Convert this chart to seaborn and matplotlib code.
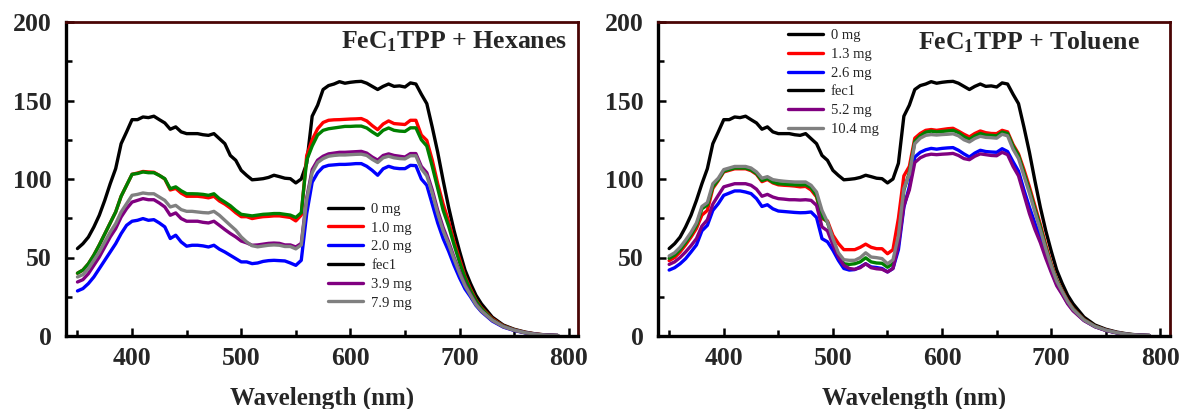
import matplotlib
matplotlib.use("Agg")
import matplotlib.pyplot as plt
from matplotlib.lines import Line2D
from matplotlib.ticker import MultipleLocator
import pandas as pd
import seaborn as sns

# ---------------- data ----------------
wavelength = list(range(350, 721, 5)) + list(range(730, 791, 10))

zero_mg = [55.7, 58.8, 63, 69.4, 76.9, 86.4, 97, 106.6, 122.5, 130,
           137.8, 137.8, 139.5, 139.1, 140, 137.8, 135.7, 131.7, 133.2, 130,
           128.9, 128.9, 128.9, 128.2, 127.8, 128.9, 125.7, 122.5, 115, 111.9,
           105.5, 102.3, 99.5, 99.8, 100.2, 101, 102.4, 101.5, 100.5, 100.2,
           97.5, 100, 110, 140, 147, 157, 159.5, 160.5, 162, 161,
           161.6, 162, 162.2, 161, 159, 157, 159, 160.5, 159, 159.3,
           158.6, 161.2, 160.5, 154, 148, 133, 117, 99, 82, 67,
           54, 42, 33.5, 26, 20.5,
           12, 7, 4.3, 2.5, 1.3, 0.6, 0.3]

# Hexanes panel
hex_1_0 = [40, 42, 46, 51.5, 58, 65, 72, 79, 89, 96,
           103, 103.8, 104.8, 104.5, 104.3, 102.3, 100, 93, 94, 91,
           89, 89, 89, 88.6, 88, 89, 86, 84, 81.5, 78.5,
           76, 76, 74.8, 75.5, 76, 76.2, 76.5, 76.5, 76, 75.5,
           73.3, 77, 115, 125, 132, 136, 137.4, 137.7, 137.8, 138,
           138.2, 138.3, 138.5, 137, 134, 131.4, 135, 137, 135.3, 135,
           134.7, 137.4, 137.4, 128, 124.6, 112, 97, 84, 73, 60,
           49, 38, 30, 23, 18,
           11, 6.5, 4, 2.3, 1.2, 0.55, 0.3]
hex_2_0 = [28.7, 30.2, 33.4, 37.6, 42.9, 48.2, 53.5, 58.8, 65.2, 70.5,
           73.1, 73.7, 74.8, 73.7, 74.1, 72, 69.5, 62.1, 64.2, 59.9,
           57.2, 57.8, 57.8, 57.4, 56.7, 57.8, 55.3, 53.5, 51.4, 49.3,
           47.2, 47.2, 46.1, 46.5, 47.5, 48, 48.2, 48, 47.8, 46.5,
           45, 48.2, 78, 98, 104, 107.6, 108.7, 109, 109.3, 109.3,
           109.5, 109.8, 109.8, 108.1, 105.5, 102.4, 106.5, 108.1, 107, 106.6,
           106.6, 108.7, 108.5, 100, 96, 84, 72, 62, 54, 45,
           37, 30, 25, 19.5, 15.5,
           9.5, 5.7, 3.5, 2, 1, 0.5, 0.3]
hex_fec1 = [40, 42, 46, 51.5, 58, 65, 72, 79, 89, 96,
            103, 103.5, 104.5, 104, 104, 102.3, 100.2, 93.8, 95, 92.5,
            90.6, 90.6, 90.5, 90.2, 89.6, 90.6, 87.5, 85.3, 83, 80,
            77.5, 77, 76.5, 77, 77.5, 77.7, 78, 78, 77.5, 77,
            75.5, 78.5, 112, 121, 128, 131, 132, 132.5, 133, 133.5,
            133.5, 133.7, 133.7, 132.5, 130, 127.8, 131, 132.5, 131, 130.5,
            130.3, 132.6, 132.6, 125, 121, 108, 94, 80, 70, 58,
            47, 37, 29, 22.5, 17.5,
            10.5, 6.3, 3.9, 2.2, 1.1, 0.5, 0.3]
hex_3_9 = [34.4, 35.9, 39.7, 45, 50.3, 56.7, 63.1, 68.4, 75.8, 81.1,
           85.3, 86.4, 87.5, 86.8, 86.8, 84.7, 82.2, 76.9, 78.4, 74.8,
           73.1, 73.1, 73.1, 72.4, 72, 73.1, 70.5, 67.8, 65.3, 63.1,
           60.5, 59.3, 57.8, 58, 58.5, 59, 59.2, 59, 58, 58,
           56.7, 59, 88, 106, 112, 114.5, 116, 116.5, 117, 117,
           117.2, 117.4, 117.6, 116.5, 114, 112, 115, 116, 115, 114.5,
           114, 116.2, 116.2, 108, 104, 93, 80, 69, 60, 50,
           41, 33, 26.5, 20.5, 16,
           10, 6, 3.7, 2.1, 1.1, 0.5, 0.3]
hex_7_9 = [37.6, 39.1, 42.9, 48.2, 53.5, 59.9, 66.2, 71.6, 79, 84.3,
           89.6, 90.2, 91.1, 90.6, 90.6, 88.5, 86.4, 82.2, 83.2, 80.5,
           79.4, 79.4, 79, 78.6, 78.4, 79.4, 76.9, 73.7, 70.5, 67.4,
           63.1, 59.9, 57.5, 56.8, 57.3, 57.8, 58, 57.8, 57, 57,
           55.5, 58, 87, 104, 110.5, 113, 114.5, 115, 115.3, 115.3,
           115.5, 115.7, 115.8, 115, 112.5, 110.5, 113.5, 114.5, 113.5, 113,
           112.8, 114.8, 114.8, 106.5, 102, 91, 78, 67, 58.5, 49,
           40, 32, 26, 20, 16,
           10, 6, 3.7, 2.1, 1.1, 0.5, 0.3]

# Toluene panel
tol_1_3 = [48, 50, 53.5, 58, 63, 68.5, 77, 80, 94, 99,
           104.5, 105.5, 106.5, 106.5, 106.5, 105.3, 103, 98.3, 99.7, 97.5,
           96.3, 96, 95.8, 95.5, 95, 95.3, 93, 88.6, 74.8, 73.3,
           64.2, 58.9, 55, 55, 55, 56.5, 58.5, 56.5, 55.6, 55.6,
           52.4, 55, 75, 102, 108, 126, 129, 131, 131.5, 131,
           131.5, 132, 132.3, 130.5, 128.5, 126.8, 129, 130.6, 129.5, 129,
           128.9, 131, 130, 122, 116, 106, 95, 83, 71, 58,
           46, 36, 29, 22.5, 17.5,
           10.5, 6.3, 3.8, 2.2, 1.1, 0.5, 0.3]
tol_2_6 = [42, 43.5, 46, 49.2, 53.5, 58, 67, 70.5, 80, 84.3,
           89.6, 91, 92.4, 92.4, 91.7, 90.7, 87.5, 82.5, 83.6, 81,
           79.6, 79.3, 79, 78.7, 78.5, 78.6, 79, 75.5, 62, 60,
           54.6, 48.2, 43, 42, 42.3, 44, 46, 44, 43.6, 43,
           40.8, 43, 55, 82, 95, 114, 117, 118.6, 119.5, 119,
           119.5, 119.8, 120, 118.3, 116, 114, 116.5, 118.3, 117.5, 117.2,
           117, 119.3, 117.5, 111, 105, 93, 82, 72, 62.5, 51.5,
           41.5, 33, 27, 21, 16.5,
           10, 6, 3.6, 2, 1, 0.5, 0.3]
tol_fec1 = [49.5, 51.5, 55, 59.5, 64.5, 70.5, 81, 83.5, 95, 99.5,
            105, 106, 107, 107, 107, 105.8, 103.5, 99, 100.3, 98,
            97, 96.8, 96.5, 96.3, 96.2, 96.3, 94.5, 89.5, 76, 72.5,
            61, 52, 46, 45.6, 46, 47.2, 49.8, 47.2, 46.5, 46.3,
            43.8, 46, 60, 93, 104, 124, 127.5, 129.8, 130.5, 130,
            130.3, 130.6, 131, 129.5, 127, 125.2, 127.5, 129, 128, 127.8,
            127.5, 129.9, 129, 121, 115, 104, 93, 81, 69.5, 56.5,
            45, 35.5, 28.5, 22, 17.2,
            10.3, 6.2, 3.7, 2.1, 1.1, 0.5, 0.3]
tol_5_2 = [45.6, 47.2, 50, 53.5, 57.5, 62, 70, 74, 84, 89.6,
           95, 96, 97, 97, 97, 96, 93.5, 89, 90.2, 88.5,
           87.5, 87.2, 86.8, 86.8, 86.6, 86.8, 86.4, 83.2, 69.5, 67,
           58, 50.5, 45, 43, 42.5, 43.5, 46, 43.5, 42.8, 42.5,
           40.8, 43, 58, 83, 93, 110.5, 113.5, 115.1, 115.8, 115.5,
           115.8, 116, 116.3, 115, 113, 112.3, 114.5, 116, 115.5, 115,
           114.8, 117, 115.5, 108, 102, 90, 78, 68, 59.5, 49.5,
           40.5, 32, 26.5, 20.5, 16,
           9.8, 5.9, 3.5, 2, 1, 0.5, 0.3]
tol_10_4 = [51, 53, 56.5, 61, 66, 72, 82.5, 85, 97, 100.5,
            106, 107, 108, 108, 108, 107, 104.5, 100.5, 101.5, 99.6,
            99, 98.6, 98.3, 98.1, 98.1, 98.1, 96, 91.7, 80, 72.6,
            62, 53, 48.6, 48.2, 48.2, 49.9, 53, 50.3, 49.9, 49.3,
            46, 48.5, 64, 94, 103, 122.5, 126, 127.8, 128.3, 128,
            128.3, 128.5, 128.8, 127.5, 125, 123.6, 125.8, 127.2, 126.5, 126.3,
            126, 128.5, 127.5, 119, 113, 102, 91, 79, 67.5, 55.5,
            44.5, 35, 28.3, 22, 17,
            10.2, 6.1, 3.7, 2.1, 1.1, 0.5, 0.3]

hex_labels = ["0 mg", "1.0 mg", "2.0 mg", "fec1", "3.9 mg", "7.9 mg"]
tol_labels = ["0 mg", "1.3 mg", "2.6 mg", "fec1", "5.2 mg", "10.4 mg"]
hex_series = [zero_mg, hex_1_0, hex_2_0, hex_fec1, hex_3_9, hex_7_9]
tol_series = [zero_mg, tol_1_3, tol_2_6, tol_fec1, tol_5_2, tol_10_4]
hex_title = r"FeC$_{\mathbf{1}}$TPP + Hexanes"
tol_title = r"FeC$_{\mathbf{1}}$TPP + Toluene"
xlabel = "Wavelength (nm)"

line_colors = ["#000000", "#ff0000", "#0000ff", "#008000", "#800080", "#808080"]
legend_colors = ["#000000", "#ff0000", "#0000ff", "#000000", "#800080", "#808080"]

for s in hex_series + tol_series:
    assert len(s) == len(wavelength)

# ---------------- style ----------------
sns.set_theme(style="white")
plt.rcParams["font.family"] = ["Liberation Serif", "DejaVu Serif"]
plt.rcParams["mathtext.fontset"] = "custom"
plt.rcParams["mathtext.rm"] = "Liberation Serif"
plt.rcParams["mathtext.bf"] = "Liberation Serif:bold"
plt.rcParams["mathtext.it"] = "Liberation Serif:italic"

fig = plt.figure(figsize=(11.81, 4.09), dpi=100)
fig.patch.set_facecolor("white")
ax_l = fig.add_axes([66 / 1181, 73 / 409, 512 / 1181, 314 / 409])
ax_r = fig.add_axes([657.7 / 1181, 73 / 409, 512 / 1181, 314 / 409])


def make_df(series, labels):
    rows = []
    for lab, vals in zip(labels, series):
        for w, v in zip(wavelength, vals):
            rows.append({"Wavelength": w, "Intensity": v, "Sample": lab})
    return pd.DataFrame(rows)


def draw(ax, series, labels, title, title_x, leg_anchor):
    df = make_df(series, labels)
    sns.lineplot(data=df, x="Wavelength", y="Intensity", hue="Sample",
                 hue_order=labels, palette=line_colors, estimator=None,
                 sort=False, linewidth=2.4, legend=False, ax=ax)
    ax.set_xlim(339.5, 808.5)
    ax.set_ylim(0, 200)
    ax.set_facecolor("white")
    ax.xaxis.set_major_locator(MultipleLocator(100))
    ax.xaxis.set_minor_locator(MultipleLocator(50))
    ax.yaxis.set_major_locator(MultipleLocator(50))
    ax.yaxis.set_minor_locator(MultipleLocator(25))
    ax.tick_params(axis="both", which="major", direction="in", length=6,
                   width=1.8, color="black", labelsize=18.5, pad=8,
                   bottom=True, left=True, top=False, right=False)
    ax.tick_params(axis="both", which="minor", direction="in", length=4.5,
                   width=1.8, color="black",
                   bottom=True, left=True, top=False, right=False)
    ax.tick_params(axis="y", which="major", pad=10)
    for lab in ax.get_xticklabels() + ax.get_yticklabels():
        lab.set_fontweight("bold")
    for side in ["left", "bottom"]:
        ax.spines[side].set_color("black")
        ax.spines[side].set_linewidth(2.4)
    for side in ["top", "right"]:
        ax.spines[side].set_color("#4a0505")
        ax.spines[side].set_linewidth(2.0)
    ax.set_xlabel(xlabel, fontsize=18, fontweight="bold", labelpad=12)
    ax.set_ylabel("")
    ax.text(title_x, 0.975, title, transform=ax.transAxes, ha="right",
            va="top", fontsize=18.5, fontweight="bold")
    handles = [Line2D([0], [0], color=c, lw=2.4) for c in legend_colors]
    ax.legend(handles, labels, loc="upper left", bbox_to_anchor=leg_anchor,
              frameon=False, fontsize=10.5, handlelength=2.4,
              handletextpad=0.55, labelspacing=0.38, borderpad=0,
              borderaxespad=0)


draw(ax_l, hex_series, hex_labels, hex_title, 0.978, (0.512, 0.425))
draw(ax_r, tol_series, tol_labels, tol_title, 0.942, (0.2545, 0.978))

fig.savefig("out.png", dpi=100, facecolor="white")
